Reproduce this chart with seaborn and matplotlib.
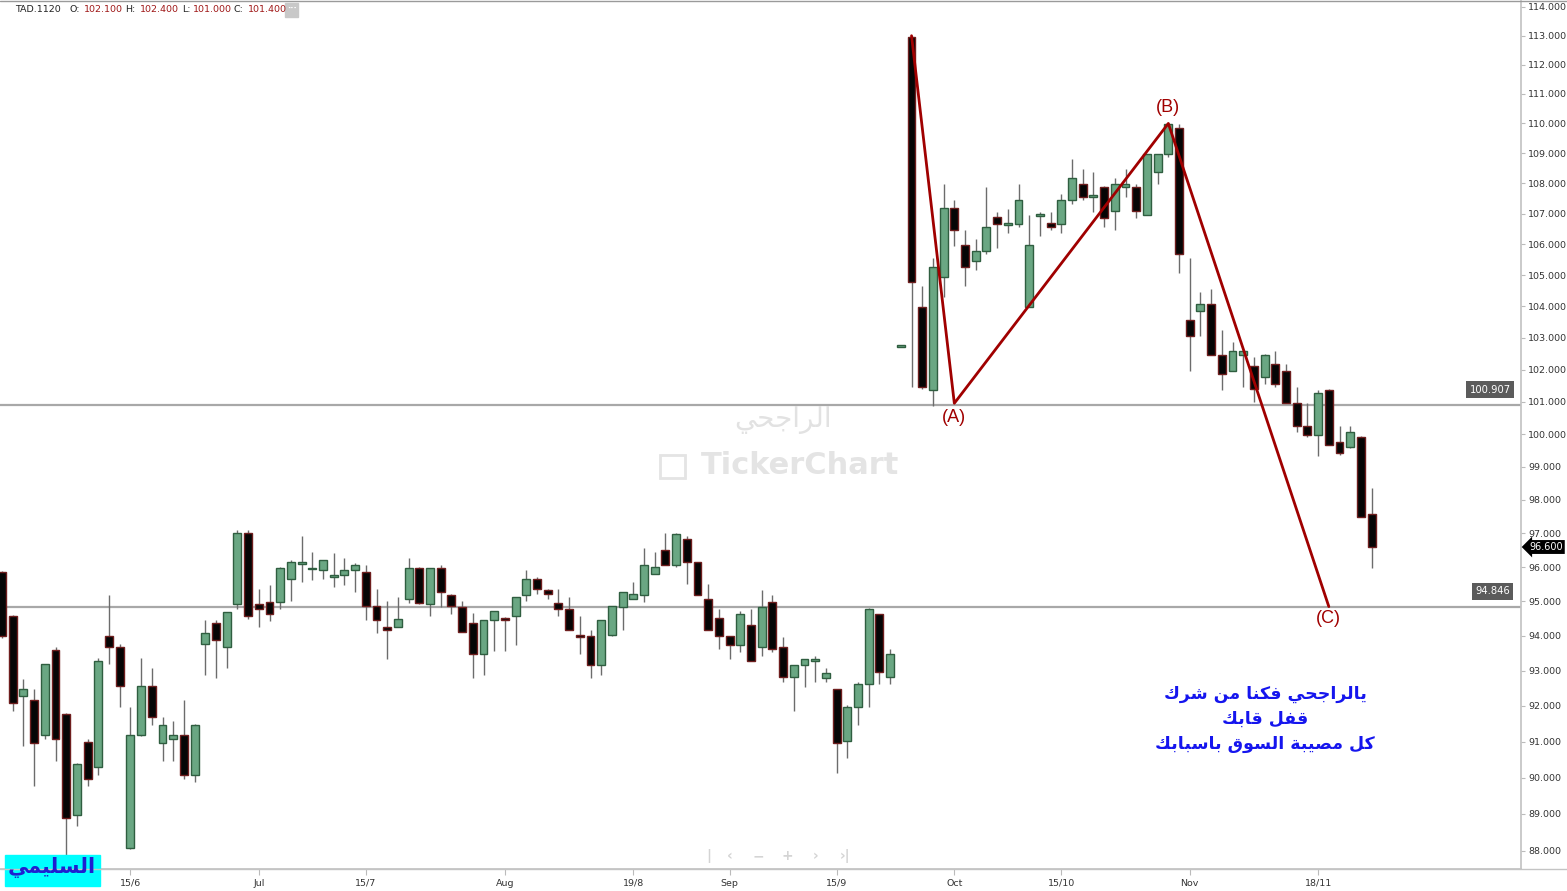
import numpy as np
import pandas as pd
import matplotlib
matplotlib.use('Agg')
import matplotlib.pyplot as plt
import matplotlib.ticker as mticker
import matplotlib.patches as mpatches
from matplotlib.lines import Line2D
import seaborn as sns

# daily OHLC (index = trading day)
opens = [95.87, 94.58, 92.27, 92.17, 91.17, 93.59, 91.78, 88.97, 90.98, 90.28,
         93.98, 93.67, 88.08, 91.17, 92.57, 90.97, 91.07, 91.17, 90.07, 93.77,
         94.38, 93.67, 94.92, 97.00, 94.92, 94.98, 94.97, 95.65, 96.10, 95.94,
         95.91, 95.72, 95.76, 95.91, 95.87, 94.87, 94.26, 94.26, 95.06, 95.97,
         94.92, 95.97, 95.17, 94.82, 94.38, 93.47, 94.47, 94.52, 94.58, 95.17,
         95.65, 95.32, 94.96, 94.77, 94.03, 93.98, 93.16, 94.02, 94.82, 95.07,
         95.17, 95.81, 96.51, 96.06, 96.82, 96.16, 95.07, 94.52, 93.98, 93.73,
         94.32, 93.67, 94.97, 93.67, 92.83, 93.16, 93.28, 92.78, 92.47, 91.02,
         91.96, 92.63, 94.63, 92.82, 102.72, 112.96, 103.97, 101.36, 104.95, 107.17,
         105.96, 105.46, 105.78, 106.88, 106.62, 106.66, 103.97, 106.92, 106.68, 106.66,
         107.46, 107.98, 107.55, 107.87, 107.07, 107.87, 107.87, 106.95, 108.36, 108.96,
         109.86, 103.57, 103.86, 104.07, 102.47, 101.97, 102.46, 102.10, 101.76, 102.17,
         101.97, 100.97, 100.26, 99.97, 101.36, 99.77, 99.62, 99.92, 97.58]
highs = [95.90, 94.60, 92.76, 92.47, 93.20, 93.67, 91.80, 90.40, 91.07, 93.36,
         95.19, 93.77, 91.98, 93.36, 93.07, 91.68, 91.57, 92.17, 91.50, 94.46,
         94.46, 94.70, 97.10, 97.10, 95.36, 95.47, 96.00, 96.20, 96.93, 96.46,
         96.22, 96.41, 96.27, 96.12, 96.06, 95.35, 95.00, 95.12, 96.27, 96.01,
         95.97, 96.06, 95.22, 95.00, 94.67, 94.47, 94.72, 94.55, 95.12, 95.92,
         95.71, 95.35, 95.35, 95.12, 94.58, 94.17, 94.47, 94.87, 95.27, 95.55,
         96.56, 96.46, 97.02, 97.00, 96.93, 96.16, 95.51, 94.77, 93.98, 94.72,
         94.77, 95.32, 95.17, 93.96, 93.16, 93.32, 93.41, 93.07, 92.47, 92.02,
         92.68, 94.80, 94.63, 93.62, 102.78, 113.00, 104.66, 105.56, 107.98, 107.44,
         106.46, 106.17, 107.87, 107.05, 107.14, 107.98, 106.95, 107.05, 107.05, 107.66,
         108.79, 108.46, 108.36, 107.90, 108.17, 108.47, 107.97, 108.96, 108.96, 110.00,
         109.97, 105.55, 104.46, 104.56, 103.25, 102.86, 102.57, 102.40, 102.50, 102.57,
         102.17, 101.47, 100.95, 101.36, 101.40, 100.26, 100.26, 99.95, 98.37]
lows = [93.95, 91.87, 90.88, 89.78, 91.07, 90.47, 87.90, 88.68, 89.78, 90.08,
        93.18, 91.98, 88.05, 91.15, 91.47, 90.47, 90.47, 89.97, 89.87, 92.88,
        92.79, 93.07, 94.77, 94.50, 94.26, 94.42, 94.77, 95.02, 95.56, 95.61,
        95.65, 95.43, 95.47, 95.27, 94.47, 94.08, 93.32, 94.24, 94.96, 94.91,
        94.58, 94.82, 94.62, 94.10, 92.78, 92.87, 93.57, 93.57, 93.73, 95.02,
        95.22, 95.07, 94.58, 94.17, 93.47, 92.78, 92.87, 94.00, 94.17, 95.07,
        94.97, 95.81, 96.06, 96.01, 95.51, 95.17, 94.17, 93.62, 93.32, 93.53,
        93.28, 93.41, 93.53, 92.68, 91.87, 92.53, 92.68, 92.68, 90.12, 90.53,
        91.47, 91.97, 92.63, 92.63, 102.72, 101.47, 101.39, 100.88, 104.31, 105.95,
        104.66, 105.16, 105.67, 105.87, 106.38, 106.57, 103.97, 106.27, 106.46, 106.35,
        107.31, 107.44, 107.05, 106.57, 106.46, 107.55, 106.86, 106.95, 107.97, 108.86,
        105.06, 101.97, 103.07, 102.46, 101.36, 101.97, 101.47, 101.00, 101.54, 101.47,
        100.95, 100.06, 99.92, 99.32, 99.66, 99.36, 99.57, 97.48, 95.97]
closes = [93.98, 92.08, 92.47, 90.97, 93.18, 91.06, 88.88, 90.37, 89.97, 93.28,
          93.67, 92.57, 91.17, 92.57, 91.68, 91.47, 91.17, 90.07, 91.47, 94.08,
          93.87, 94.68, 97.00, 94.56, 94.77, 94.62, 95.97, 96.16, 96.16, 95.97,
          96.22, 95.76, 95.92, 96.06, 94.87, 94.47, 94.17, 94.48, 95.97, 94.96,
          95.97, 95.27, 94.87, 94.10, 93.47, 94.47, 94.72, 94.46, 95.12, 95.65,
          95.35, 95.22, 94.77, 94.17, 93.96, 93.16, 94.47, 94.87, 95.27, 95.22,
          96.06, 96.01, 96.06, 96.97, 96.16, 95.17, 94.17, 93.98, 93.73, 94.63,
          93.28, 94.82, 93.62, 92.83, 93.16, 93.32, 93.32, 92.93, 90.97, 91.96,
          92.63, 94.77, 92.96, 93.47, 102.78, 104.77, 101.47, 105.27, 107.17, 106.46,
          105.25, 105.78, 106.57, 106.66, 106.68, 107.46, 105.96, 106.97, 106.55, 107.46,
          108.17, 107.55, 107.60, 106.86, 107.97, 107.97, 107.07, 108.96, 108.96, 109.97,
          105.67, 103.06, 104.07, 102.46, 101.86, 102.57, 102.57, 101.40, 102.47, 101.54,
          100.95, 100.26, 99.97, 101.26, 99.66, 99.41, 100.07, 97.48, 96.60]

tick_idx = [12, 24, 34, 47, 59, 68, 78, 89, 99, 111, 123]
tick_labels = ['15/6', 'Jul', '15/7', 'Aug', '19/8', 'Sep', '15/9', 'Oct', '15/10', 'Nov', '18/11']

# ABC swing drawn on the chart
abc_idx = [85, 89, 109, 124]
abc_price = [113.0, 100.95, 110.0, 94.846]
abc_names = ['', '(A)', '(B)', '(C)']
abc_offset = [0, -14, 16, -12]

levels = [100.907, 94.846]
last_price = 96.60

# ---- arabic helper: matplotlib does no shaping, so pick presentation forms
FORMS = {
    'ا': ('\uFE8D', '\uFE8E', None, None),
    'ب': ('\uFE8F', '\uFE90', '\uFE91', '\uFE92'),
    'ة': ('\uFE93', '\uFE94', None, None),
    'ج': ('\uFE9D', '\uFE9E', '\uFE9F', '\uFEA0'),
    'ح': ('\uFEA1', '\uFEA2', '\uFEA3', '\uFEA4'),
    'ر': ('\uFEAD', '\uFEAE', None, None),
    'س': ('\uFEB1', '\uFEB2', '\uFEB3', '\uFEB4'),
    'ش': ('\uFEB5', '\uFEB6', '\uFEB7', '\uFEB8'),
    'ص': ('\uFEB9', '\uFEBA', '\uFEBB', '\uFEBC'),
    'ف': ('\uFED1', '\uFED2', '\uFED3', '\uFED4'),
    'ق': ('\uFED5', '\uFED6', '\uFED7', '\uFED8'),
    'ك': ('\uFED9', '\uFEDA', '\uFEDB', '\uFEDC'),
    'ل': ('\uFEDD', '\uFEDE', '\uFEDF', '\uFEE0'),
    'م': ('\uFEE1', '\uFEE2', '\uFEE3', '\uFEE4'),
    'ن': ('\uFEE5', '\uFEE6', '\uFEE7', '\uFEE8'),
    'و': ('\uFEED', '\uFEEE', None, None),
    'ي': ('\uFEF1', '\uFEF2', '\uFEF3', '\uFEF4'),
}


def shape(text):
    out = []
    for k, ch in enumerate(text):
        if ch not in FORMS:
            out.append(ch)
            continue
        prev = text[k - 1] if k > 0 else None
        nxt = text[k + 1] if k + 1 < len(text) else None
        jp = prev in FORMS and FORMS[prev][2] is not None
        jn = FORMS[ch][2] is not None and nxt in FORMS
        iso, fin, ini, med = FORMS[ch]
        if jp and jn:
            out.append(med)
        elif jp:
            out.append(fin)
        elif jn:
            out.append(ini)
        else:
            out.append(iso)
    return ''.join(reversed(out))


df = pd.DataFrame({'o': opens, 'h': highs, 'l': lows, 'c': closes})
df['i'] = np.arange(len(df))
df['up'] = df['c'] >= df['o']

sns.set_theme(style='white')
plt.rcParams['font.family'] = ['DejaVu Sans']

W, H = 1567, 891
fig = plt.figure(figsize=(W / 100, H / 100), dpi=100)
ax = fig.add_axes([0, 22 / H, 1521 / W, 868 / H])


def fx(x):
    return x / W


def fy(y):
    return 1 - y / H


# wicks then bodies
ax.vlines(df['i'], df['l'], df['h'], color='#6c6c6c', lw=1, zorder=1)
up = df[df['up']]
dn = df[~df['up']]
ax.bar(up['i'], up['c'] - up['o'], bottom=up['o'], width=0.74,
       color='#6aa783', edgecolor='#2f5e40', linewidth=1, zorder=2)
ax.bar(dn['i'], dn['o'] - dn['c'], bottom=dn['c'], width=0.74,
       color='#050505', edgecolor='#6e1e1e', linewidth=1, zorder=2)

for lv in levels:
    ax.axhline(lv, color='#a8a8a8', lw=1.6, zorder=0)

sns.lineplot(x=abc_idx, y=abc_price, sort=False, estimator=None,
             color='#a00000', lw=2, ax=ax, zorder=3)
for i, p, name, dy in zip(abc_idx, abc_price, abc_names, abc_offset):
    if name:
        ax.annotate(name, xy=(i, p), xytext=(0, dy), textcoords='offset pixels',
                    ha='center', va='center', color='#a00000', fontsize=13,
                    family=['Liberation Sans', 'DejaVu Sans'])

ax.set_yscale('log')
ax.set_ylim(87.51, 114.21)
ax.set_xlim(-0.19, 141.96)
ax.yaxis.tick_right()
ax.yaxis.set_major_locator(mticker.FixedLocator(list(range(88, 115))))
ax.yaxis.set_minor_locator(mticker.NullLocator())
ax.yaxis.set_major_formatter(mticker.FuncFormatter(lambda v, _: f'{v:.3f}'))
ax.xaxis.set_major_locator(mticker.FixedLocator(tick_idx))
ax.xaxis.set_major_formatter(mticker.FixedFormatter(tick_labels))
ax.tick_params(axis='y', which='major', length=3, width=0.8, color='#bbbbbb',
               labelsize=6.8, labelcolor='#333333', pad=2, right=True, left=False)
ax.tick_params(axis='x', which='major', length=4, width=0.8, color='#bbbbbb',
               labelsize=6.8, labelcolor='#333333', pad=3, bottom=True)
ax.set_xlabel('')
ax.set_ylabel('')
for s in ['left', 'top']:
    ax.spines[s].set_visible(False)
ax.spines['right'].set_color('#c4c4c4')
ax.spines['bottom'].set_color('#c4c4c4')

fig.add_artist(Line2D([0, 1], [fy(869), fy(869)], color='#c4c4c4', lw=1))
fig.add_artist(Line2D([0, 1], [fy(1), fy(1)], color='#9a9a9a', lw=1))

# header
fig.text(fx(15), fy(10), 'TAD.1120', fontsize=6.8, color='#222222', va='center')
hdr = [(69, 'O:', '#222222'), (84, '102.100', '#a01818'), (125, 'H:', '#222222'),
       (140, '102.400', '#a01818'), (182, 'L:', '#222222'), (193, '101.000', '#a01818'),
       (233, 'C:', '#222222'), (248, '101.400', '#a01818')]
for x, t, col in hdr:
    fig.text(fx(x), fy(10), t, fontsize=6.8, color=col, va='center')
fig.patches.append(mpatches.Rectangle((fx(285), fy(17)), 13 / W, 14 / H,
                                      transform=fig.transFigure, color='#c8c8c8'))
fig.text(fx(291.5), fy(9), '···', fontsize=6, color='white', ha='center', va='center',
         weight='bold')

# level tags
fig.text(fx(1490), fy(389.5), '100.907', fontsize=7.2, color='white', ha='center', va='center',
         bbox=dict(boxstyle='square,pad=0.35', fc='#5b5b5b', ec='none'))
fig.text(fx(1492.5), fy(591), '94.846', fontsize=7.2, color='white', ha='center', va='center',
         bbox=dict(boxstyle='square,pad=0.35', fc='#5b5b5b', ec='none'))
fig.text(fx(1546), fy(547), f'{last_price:.3f}', fontsize=7, color='white', ha='center',
         va='center', bbox=dict(boxstyle='larrow,pad=0.2', fc='black', ec='none'))

# watermark
fig.text(fx(783), fy(420), shape('الراجحي'), fontsize=20, color='#e2e2e2',
         ha='center', va='center')
fig.text(fx(800), fy(466), 'TickerChart', fontsize=22, color='#e4e4e4',
         ha='center', va='center', weight='bold')
fig.patches.append(mpatches.Rectangle((fx(660), fy(478)), 25 / W, 23 / H,
                                      transform=fig.transFigure, fc='none',
                                      ec='#e4e4e4', lw=2))

# comment in blue
lines = ['يالراجحي فكنا من شرك', 'قفل قابك', 'كل مصيبة السوق باسبابك']
for k, t in enumerate(lines):
    fig.text(fx(1265), fy(694 + 25 * k), shape(t), fontsize=12.5, color='#1515ee',
             ha='center', va='center', weight='bold')

# name tag bottom left
fig.patches.append(mpatches.Rectangle((fx(5), fy(886)), 95 / W, 31 / H,
                                      transform=fig.transFigure, color='#00ffff'))
fig.text(fx(52), fy(868), shape('السليمي'), fontsize=15, color='#1f1fd0',
         ha='center', va='center', weight='bold')

# faint navigation strip
for x, t in [(709, '|'), (730, '‹'), (758, '−'), (787, '+'), (816, '›'), (845, '›|')]:
    fig.text(fx(x), fy(856), t, fontsize=10, color='#d4d4d4', ha='center', va='center',
             weight='bold')

fig.savefig('out.png', dpi=100)
